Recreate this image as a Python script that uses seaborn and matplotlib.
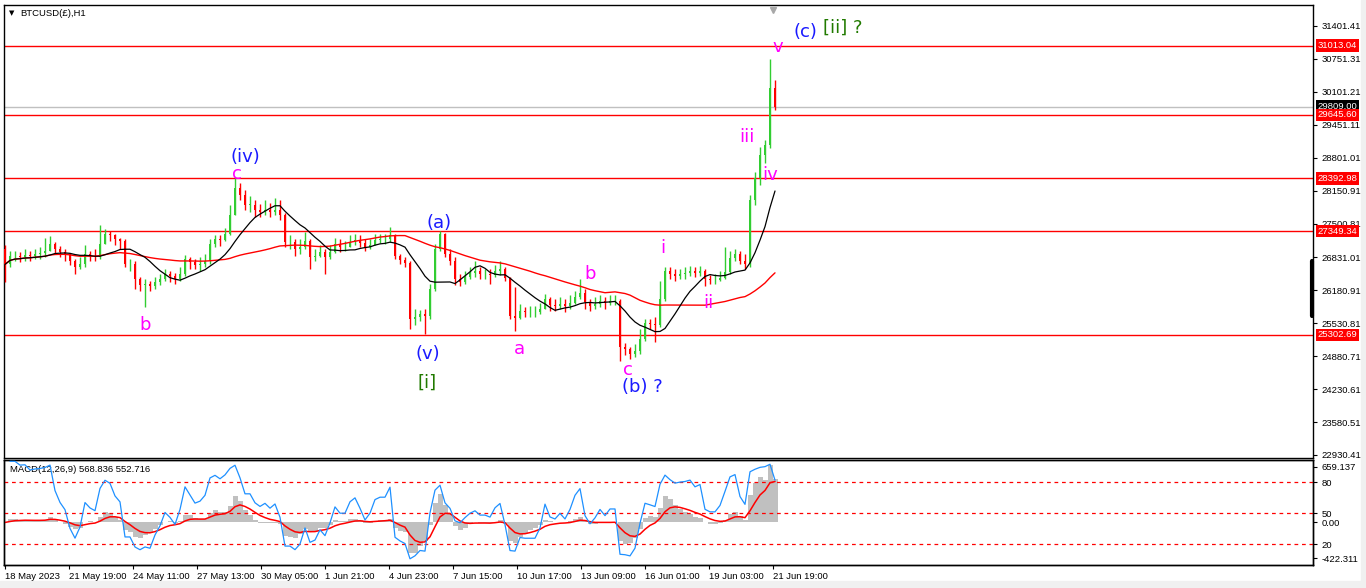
import numpy as np
import pandas as pd
import matplotlib
matplotlib.use("Agg")
import matplotlib.pyplot as plt
import matplotlib.transforms as mtransforms
import seaborn as sns

# BTCUSD, bars (about 5 hours per bar)
first_open = 26989
closes = [26694, 26851, 26851, 26832, 26871, 26851, 26891, 26910, 26950, 27088,
          26989, 26930, 26891, 26753, 26634, 26694, 26891, 26851, 26832, 27088,
          27285, 27265, 27186, 27147, 26694, 26694, 26398, 26280, 26300, 26260,
          26339, 26398, 26497, 26457, 26398, 26497, 26792, 26733, 26674, 26694,
          26753, 27088, 27186, 27166, 27285, 27679, 28210, 28072, 27876, 27876,
          27777, 27738, 27777, 27738, 27777, 27679, 27127, 27127, 26989, 27028,
          27147, 26832, 26851, 26930, 26832, 26930, 27088, 27028, 27028, 27127,
          27166, 27107, 27028, 27068, 27166, 27186, 27186, 27265, 26851, 26772,
          26713, 25610, 25649, 25709, 25669, 26201, 26989, 27285, 26891, 26753,
          26398, 26339, 26437, 26516, 26556, 26497, 26497, 26477, 26556, 26595,
          26418, 25669, 25630, 25768, 25748, 25748, 25748, 25807, 26004, 25886,
          25866, 25906, 25866, 25925, 26043, 26122, 25945, 25866, 25906, 25965,
          25925, 25965, 25965, 25058, 25019, 24920, 24980, 25216, 25531, 25511,
          25492, 26004, 26556, 26497, 26457, 26497, 26516, 26556, 26516, 26556,
          26398, 26378, 26378, 26418, 26536, 26812, 26891, 26753, 26694, 27974,
          28407, 28860, 29057, 30180, 29806]
highs = [27068, 26950, 26950, 26930, 26989, 26950, 26989, 27028, 27225, 27245,
         27127, 27048, 26989, 26910, 26792, 26832, 27068, 26950, 26989, 27462,
         27383, 27344, 27304, 27225, 27186, 26792, 26753, 26437, 26398, 26359,
         26437, 26497, 26595, 26556, 26516, 26634, 26871, 26832, 26792, 26832,
         26891, 27186, 27265, 27265, 27422, 27876, 28407, 28309, 28171, 28053,
         27974, 27895, 27974, 27915, 28013, 27974, 27700, 27265, 27186, 27186,
         27324, 27186, 26989, 27068, 26989, 27068, 27225, 27186, 27147, 27265,
         27304, 27265, 27186, 27186, 27285, 27304, 27304, 27442, 27290, 26891,
         26832, 26753, 25807, 25787, 25807, 26300, 27088, 27344, 27305, 26989,
         26832, 26497, 26556, 26634, 26753, 26634, 26595, 26595, 26674, 26753,
         26634, 26437, 26240, 25906, 25846, 25866, 25866, 25925, 26102, 26043,
         26004, 26043, 26004, 26083, 26162, 26398, 26201, 26004, 26043, 26083,
         26043, 26083, 26083, 26004, 25137, 25058, 25117, 25413, 25610, 25610,
         25649, 26359, 26634, 26634, 26595, 26595, 26634, 26654, 26634, 26654,
         26595, 26477, 26497, 26556, 27028, 26950, 26989, 26950, 26891, 28072,
         28526, 29018, 29156, 30752, 30338]
lows = [26339, 26650, 26753, 26733, 26753, 26753, 26792, 26792, 26832, 26950,
        26891, 26832, 26753, 26674, 26497, 26595, 26650, 26753, 26753, 26792,
        27088, 27147, 27068, 26989, 26634, 26556, 26201, 26162, 25846, 26162,
        26201, 26280, 26359, 26339, 26300, 26359, 26457, 26595, 26595, 26556,
        26634, 26694, 27028, 27048, 27147, 27265, 27679, 27974, 27777, 27738,
        27620, 27620, 27679, 27620, 27679, 27580, 27028, 26989, 26851, 26891,
        26989, 26595, 26753, 26832, 26497, 26792, 26910, 26930, 26950, 27028,
        27068, 27028, 26950, 26989, 27068, 27107, 27088, 27127, 26792, 26694,
        26634, 25413, 25492, 25570, 25314, 25610, 26162, 26950, 26832, 26674,
        26280, 26260, 26300, 26398, 26437, 26398, 26398, 26300, 26437, 26477,
        26359, 25610, 25374, 25610, 25649, 25649, 25649, 25709, 25807, 25768,
        25768, 25807, 25748, 25807, 25906, 26004, 25807, 25768, 25807, 25846,
        25807, 25886, 25886, 24783, 24901, 24822, 24861, 24920, 25177, 25413,
        25157, 25452, 25965, 26398, 26359, 26398, 26398, 26457, 26437, 26457,
        26260, 26300, 26300, 26359, 26398, 26500, 26753, 26694, 26595, 26634,
        27876, 28270, 28703, 28998, 29747]

levels = [31013.04, 29645.60, 28392.98, 27349.34, 25302.69]
last_price = 29809.00
price_ticks = [31401.41, 30751.31, 30101.21, 29451.11, 28801.01, 28150.91, 27500.81,
               26831.01, 26180.91, 25530.81, 24880.71, 24230.61, 23580.51, 22930.41]
date_labels = ["18 May 2023", "21 May 19:00", "24 May 11:00", "27 May 13:00",
               "30 May 05:00", "1 Jun 21:00", "4 Jun 23:00", "7 Jun 15:00",
               "10 Jun 17:00", "13 Jun 09:00", "16 Jun 01:00", "19 Jun 03:00",
               "21 Jun 19:00"]

# wave count labels: text, bar position, price, colour
wave_text = ["(iv)", "c", "b", "(a)", "(v)", "[i]", "a", "b", "c", "(b) ?",
             "i", "ii", "iii", "iv", "v", "(c)", "[ii] ?"]
wave_bar = [48, 46.4, 28, 86.8, 84.6, 84.4, 102.8, 117, 124.6, 127.4,
            131.6, 140.6, 148.4, 153, 154.6, 160, 167.6]
wave_price = [28810, 28470, 25497, 27511, 24924, 24352, 25023, 26504, 24600, 24270,
              27018, 25932, 29210, 28459, 30987, 31283, 31362]
BLUE, MAG, GRN = "#1a1aff", "#ff00ff", "#217a00"
wave_color = [BLUE, MAG, MAG, BLUE, BLUE, GRN, MAG, MAG, MAG, BLUE,
              MAG, MAG, MAG, MAG, MAG, BLUE, GRN]

sns.set_style("white")
plt.rcParams["font.family"] = ["Liberation Sans", "DejaVu Sans"]

df = pd.DataFrame({"close": closes, "high": highs, "low": lows})
df["open"] = [first_open] + closes[:-1]
df["bar"] = np.arange(len(df))
df["ma_fast"] = df["close"].rolling(10, min_periods=1).mean()
df["ma_slow"] = df["close"].rolling(40, min_periods=1).mean()
ema_f = df["close"].ewm(alpha=0.567, adjust=False).mean()
ema_s = df["close"].ewm(alpha=0.319, adjust=False).mean()
df["macd"] = ema_f - ema_s
df["signal"] = df["macd"].ewm(alpha=0.3, adjust=False).mean()
delta = df["close"].diff()
gain = delta.clip(lower=0).ewm(alpha=0.2, adjust=False).mean()
loss = (-delta.clip(upper=0)).ewm(alpha=0.2, adjust=False).mean()
df["rsi"] = 100 - 100 / (1 + gain / loss)

W, H = 1366, 588
fig = plt.figure(figsize=(W / 100, H / 100), dpi=100)
fig.patch.set_facecolor("white")
ax = fig.add_axes([4 / W, 1 - 458 / H, 1309 / W, 453 / H])
axm = fig.add_axes([4 / W, 1 - 565 / H, 1309 / W, 105 / H])
fig.add_artist(plt.Rectangle((1361 / W, 0), 5 / W, 1, transform=fig.transFigure,
                             color="#f0f0f0", zorder=0))
fig.add_artist(plt.Rectangle((0, 0), 1, 7 / H, transform=fig.transFigure,
                             color="#f0f0f0", zorder=0))

xlim = (-0.2, 261.6)

# ---- price panel ----
up = df["close"] >= df["open"]
cols = np.where(up, "#32cd32", "#ff0000")
ax.vlines(df["bar"], df["low"], df["high"], colors=cols, lw=1.0, zorder=3)
ax.bar(df["bar"], (df["close"] - df["open"]).abs().clip(lower=8),
       bottom=df[["open", "close"]].min(axis=1), width=0.5, color=cols,
       linewidth=0, zorder=3)
sns.lineplot(data=df, x="bar", y="ma_slow", ax=ax, color="#ff0000", lw=1.0, zorder=4)
sns.lineplot(data=df, x="bar", y="ma_fast", ax=ax, color="black", lw=0.9, zorder=4)

ax.axhline(last_price, color="#c0c0c0", lw=1.0, zorder=2)
for lv in levels:
    ax.axhline(lv, color="#ff0000", lw=1.0, zorder=2)

ax.set_xlim(*xlim)
ax.set_ylim(22871, 31816)
ax.set_xlabel("")
ax.set_ylabel("")
ax.set_xticks([])
ax.yaxis.tick_right()
ax.set_yticks(price_ticks)
ax.set_yticklabels([f"{v:.2f}" for v in price_ticks])
ax.tick_params(axis="y", direction="out", length=3, width=0.8, pad=3,
               labelsize=6.8, colors="black", right=True, left=False)
for s in ax.spines.values():
    s.set_color("black")
    s.set_linewidth(1.0)

tr = mtransforms.blended_transform_factory(ax.transAxes, ax.transData)
ax.text(1.0035, last_price, f"{last_price:.2f}", transform=tr, ha="left",
        va="center", color="white", fontsize=6.8, clip_on=False, zorder=10,
        bbox=dict(boxstyle="square,pad=0.18", fc="black", ec="none"))
for lv in levels:
    ax.text(1.0035, lv, f"{lv:.2f}", transform=tr, ha="left", va="center",
            color="white", fontsize=6.8, clip_on=False, zorder=11,
            bbox=dict(boxstyle="square,pad=0.18", fc="#ff0000", ec="none"))
ax.plot([0.9995, 0.9995], [26753, 25669], transform=tr, color="black", lw=3,
        clip_on=False, zorder=9)
tr2 = mtransforms.blended_transform_factory(ax.transData, ax.transAxes)
ax.plot([153.6], [0.99], transform=tr2, marker="v", color="#a8a8a8", ms=5,
        clip_on=False, zorder=9)

ax.text(0.0061, 0.981, "\u25bc", transform=ax.transAxes, fontsize=5,
        ha="center", va="center", color="black", family="DejaVu Sans")
ax.text(0.0122, 0.981, "BTCUSD(£),H1", transform=ax.transAxes, fontsize=6.8,
        ha="left", va="center", color="black")

for t, b, p, c in zip(wave_text, wave_bar, wave_price, wave_color):
    ax.text(b, p, t, color=c, fontsize=13, ha="center", va="center",
            family="DejaVu Sans", zorder=8)

# ---- MACD panel ----
axm.bar(df["bar"], df["macd"], width=1.0, color="#c0c0c0", linewidth=0, zorder=2)
sns.lineplot(data=df, x="bar", y="signal", ax=axm, color="#ff0000", lw=1.1, zorder=4)

axo = axm.twinx()
for lv in (80, 50, 20):
    axo.axhline(lv, color="#ff0000", lw=0.9, ls=(0, (3, 3)), zorder=1)
sns.lineplot(data=df, x="bar", y="rsi", ax=axo, color="#1e90ff", lw=0.9, zorder=3)
axo.set_xlim(*xlim)
axo.set_ylim(-0.3, 101.3)
axo.set_yticks([80, 50, 20])
axo.set_yticklabels(["80", "50", "20"])
axo.set_ylabel("")
axo.tick_params(axis="y", direction="out", length=3, width=0.8, pad=3,
                labelsize=6.8, colors="black")

axm.set_xlim(*xlim)
axm.set_ylim(-505, 742)
axm.yaxis.tick_right()
axm.yaxis.set_label_position("right")
axm.set_yticks([659.137, 0, -422.311])
axm.set_yticklabels(["659.137", "0.00", "-422.311"])
axm.set_xlabel("")
axm.set_ylabel("")
axm.set_xticks(np.arange(len(date_labels)) * 12.806)
axm.set_xticklabels(date_labels, ha="left")
axm.tick_params(axis="x", direction="out", length=3, width=0.8, pad=2,
                labelsize=6.8, colors="black", bottom=True)
axm.tick_params(axis="y", direction="out", length=3, width=0.8, pad=3,
                labelsize=6.8, colors="black", right=True, left=False,
                labelright=True, labelleft=False)
for a in (axm, axo):
    for s in a.spines.values():
        s.set_color("black")
        s.set_linewidth(1.0)

axm.text(0.0046, 0.914, "MACD(12,26,9) 568.836 552.716", transform=axm.transAxes,
         fontsize=6.8, ha="left", va="center", color="black")

fig.savefig("out.png", dpi=100, facecolor="white")
